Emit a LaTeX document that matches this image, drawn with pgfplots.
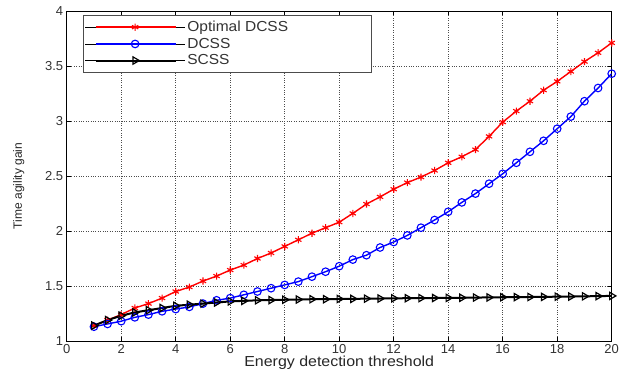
\documentclass[border=0pt]{standalone}
\usepackage{pgfplots}
\pgfplotsset{compat=1.18}
\usepackage{fontspec}
\setmainfont{Liberation Sans}
\newfontfamily\wideA[FakeStretch=1.1]{Liberation Sans}
\newfontfamily\wideB[FakeStretch=1.07]{Liberation Sans}
\tikzset{
  redstyle/.style={draw=red, color=red, line width=1.4bp, mark=asterisk, mark size=3.6bp, mark options={line width=1.1bp, draw=red}},
  bluestyle/.style={draw=blue, color=blue, line width=1.4bp, mark=o, mark size=3.8bp, mark options={line width=1.1bp, draw=blue}},
  blackstyle/.style={draw=black, color=black, line width=2bp, mark=triangle, mark size=4.2bp, mark options={rotate=-90, line width=1.2bp, fill=none, draw=black}},
}
\begin{document}
\begin{tikzpicture}
\begin{axis}[
  scale only axis, width=545bp, height=330bp,
  xmin=0, xmax=20, ymin=1, ymax=4,
  xtick={0,2,...,20}, ytick={1,1.5,...,4},
  yticklabels={1,1.5,2,2.5,3,3.5,4},
  /pgf/number format/assume math mode=true,
  ticklabel style={font=\fontsize{13bp}{15bp}\selectfont, text=black!80},
  tick align=inside, major tick length=4bp,
  xtick pos=both, ytick pos=both,
  tick style={black, line width=0.8bp},
  axis line style={black, line width=1bp},
  grid=major, major grid style={black!70, dotted, line width=0.7bp},
  xlabel={Energy detection threshold},
  xlabel style={font=\wideA\fontsize{14.5bp}{15bp}\selectfont, text=black!85, at={(axis description cs:0.5,-0.045)}, anchor=north, inner sep=0pt},
  ylabel={Time agility gain},
  ylabel style={font=\fontsize{12bp}{13bp}\selectfont, text=black!85, at={(axis description cs:-0.088,0.47)}, anchor=center},
  legend style={at={(axis description cs:0.0294,0.988)}, anchor=north west, draw=black!70,
    font=\wideB\fontsize{14.5bp}{16bp}\selectfont, text=black!80, row sep=1bp, inner xsep=2bp, inner ysep=4bp},
  legend cell align=left,
]
\addlegendimage{legend image code/.code={%
    \path (-11bp,0cm) -- (89bp,0cm);
    \draw[red, line width=1.4bp] (0cm,0cm) -- (80bp,0cm);
    \draw[red, line width=1.4bp] (0cm,0cm) -- (80bp,0cm);
    \draw[redstyle, mark repeat=1, mark phase=1, only marks] plot coordinates {(39bp,0cm)};}}
\addlegendimage{legend image code/.code={%
    \path (-11bp,0cm) -- (89bp,0cm);
    \draw[blue, line width=1.4bp] (0cm,0cm) -- (80bp,0cm);
    \draw[blue, line width=1.4bp] (0cm,0cm) -- (80bp,0cm);
    \draw[bluestyle, mark repeat=1, mark phase=1, only marks] plot coordinates {(39bp,0cm)};}}
\addlegendimage{legend image code/.code={%
    \path (-11bp,0cm) -- (89bp,0cm);
    \draw[black, line width=2bp] (0cm,0cm) -- (80bp,0cm);
    \draw[black, line width=2bp] (0cm,0cm) -- (80bp,0cm);
    \draw[blackstyle, mark repeat=1, mark phase=1, only marks] plot coordinates {(39bp,0cm)};}}
\addplot[redstyle, forget plot] coordinates {
(1,1.14) (1.5,1.19) (2,1.24) (2.5,1.30) (3,1.34) (3.5,1.39) (4,1.45) (4.5,1.49) (5,1.545) (5.5,1.59)
(6,1.645) (6.5,1.69) (7,1.75) (7.5,1.80) (8,1.86) (8.5,1.92) (9,1.98) (9.5,2.03) (10,2.08) (10.5,2.16)
(11,2.245) (11.5,2.31) (12,2.38) (12.5,2.44) (13,2.49) (13.5,2.55) (14,2.62) (14.5,2.675) (15,2.74) (15.5,2.86)
(16,2.99) (16.5,3.09) (17,3.18) (17.5,3.28) (18,3.36) (18.5,3.45) (19,3.54) (19.5,3.62) (20,3.71)};
\addplot[bluestyle, forget plot] coordinates {
(1,1.13) (1.5,1.155) (2,1.18) (2.5,1.215) (3,1.24) (3.5,1.27) (4,1.29) (4.5,1.31) (5,1.34) (5.5,1.37)
(6,1.39) (6.5,1.42) (7,1.45) (7.5,1.48) (8,1.51) (8.5,1.54) (9,1.585) (9.5,1.63) (10,1.68) (10.5,1.74)
(11,1.78) (11.5,1.85) (12,1.90) (12.5,1.96) (13,2.03) (13.5,2.10) (14,2.175) (14.5,2.26) (15,2.34) (15.5,2.43)
(16,2.52) (16.5,2.62) (17,2.72) (17.5,2.82) (18,2.93) (18.5,3.04) (19,3.18) (19.5,3.30) (20,3.43)};
\addplot[blackstyle, forget plot] coordinates {
(1,1.14) (1.5,1.19) (2,1.23) (2.5,1.26) (3,1.28) (3.5,1.30) (4,1.32) (4.5,1.33) (5,1.34) (5.5,1.35)
(6,1.36) (6.5,1.365) (7,1.37) (7.5,1.372) (8,1.375) (8.5,1.377) (9,1.38) (9.5,1.38) (10,1.382) (10.5,1.383)
(11,1.385) (11.5,1.386) (12,1.388) (12.5,1.389) (13,1.39) (13.5,1.391) (14,1.392) (14.5,1.393) (15,1.395) (15.5,1.396)
(16,1.398) (16.5,1.399) (17,1.40) (17.5,1.401) (18,1.403) (18.5,1.404) (19,1.406) (19.5,1.408) (20,1.41)};
\legend{\makebox[180bp][l]{Optimal DCSS},DCSS,SCSS}
\end{axis}
\path (current axis.south west) ++(-66.7bp,-35bp) rectangle ++(627bp,376bp);
\end{tikzpicture}
\end{document}
